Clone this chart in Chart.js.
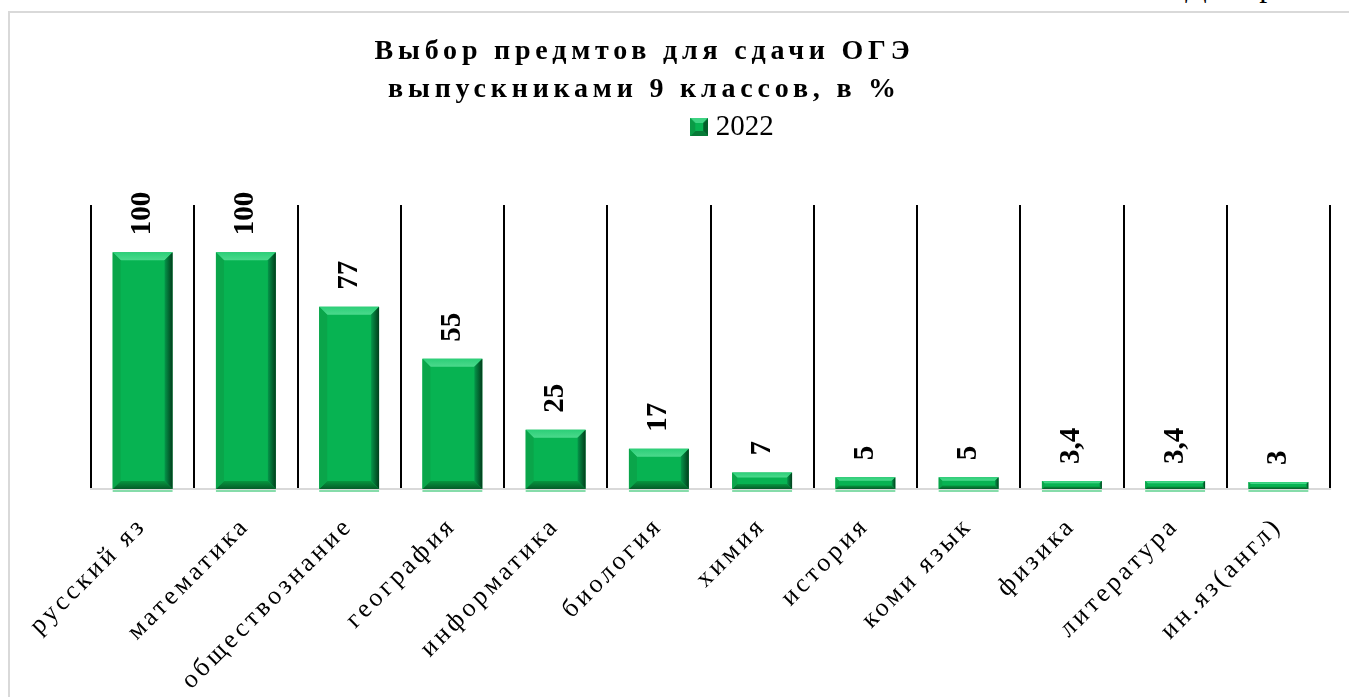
<!DOCTYPE html>
<html lang="ru">
<head>
<meta charset="utf-8">
<title>Выбор предметов ОГЭ</title>
<script src="https://cdn.jsdelivr.net/npm/chart.js@4.4.1/dist/chart.umd.min.js"></script>
<style>
  html, body { margin: 0; padding: 0; background: #fff; overflow: hidden; }
  #caption { position: absolute; left: 1185px; top: -31px; font: 32px "Liberation Serif", serif; line-height: 32px; letter-spacing: 2px; white-space: nowrap; color: #000; }
  #frame { position: absolute; left: 8px; top: 11px; width: 1400px; height: 700px; border-top: 2px solid #d9d9d9; border-left: 2px solid #d9d9d9; }
  #wrap { position: absolute; left: 0; top: 0; }
</style>
</head>
<body>
<div id="caption">Диаграмма</div>
<div id="frame"></div>
<div id="wrap"><canvas id="oge" width="1349" height="697"></canvas></div>
<script>
// ================= DATA =================
const subjects = [
  "русский яз", "математика", "обществознание", "география",
  "информатика", "биология", "химия", "история",
  "коми язык", "физика", "литература", "ин.яз(англ)"
];
const share2022 = [100, 100, 77, 55, 25, 17, 7, 5, 5, 3.4, 3.4, 3];
const yearLabel = "2022";
const titleLines = ["Выбор предмтов для сдачи ОГЭ", "выпускниками 9 классов, в %"];

const SERIF = '"Liberation Serif", "Times New Roman", serif';
const GREEN = "#07b352";

// ================= HELPERS =================
// wraps a draw method so it runs with its own letter spacing / shift
function wrapDraw(obj, name, gap, dx) {
  if (!obj || obj["_wrapped_" + name]) return;
  const orig = obj[name];
  obj[name] = function (...args) {
    const ctx = this.ctx;
    ctx.save();
    ctx.letterSpacing = gap;
    ctx.translate(dx, 0);
    orig.apply(this, args);
    ctx.restore();
  };
  obj["_wrapped_" + name] = true;
}

function legendIcon() {
  const c = document.createElement("canvas");
  c.width = 18; c.height = 18;
  const g = c.getContext("2d");
  g.fillStyle = GREEN; g.fillRect(0, 0, 18, 18);
  const e = 5;
  const facet = (pts, col) => {
    g.beginPath(); g.moveTo(pts[0], pts[1]);
    for (let i = 2; i < pts.length; i += 2) g.lineTo(pts[i], pts[i + 1]);
    g.closePath(); g.fillStyle = col; g.fill();
  };
  facet([0, 0, 18, 0, 18 - e, e, e, e], "#3fd383");
  facet([18, 0, 18, 18, 18 - e, 18 - e, 18 - e, e], "#035f2a");
  facet([0, 18, 18, 18, 18 - e, 18 - e, e, 18 - e], "#077a37");
  facet([0, 0, e, e, e, 18 - e, 0, 18], "#0a9a46");
  return c;
}

// ================= PLUGINS =================
const textTweaks = {
  id: "textTweaks",
  beforeDraw(chart) {
    wrapDraw(chart.titleBlock, "draw", "4.8px", -66);
    wrapDraw(chart.legend, "draw", "0px", 25);
    wrapDraw(chart.scales.x, "drawLabels", "3.5px", 0);
  }
};

const legendGap = {
  id: "legendGap",
  beforeInit(chart) {
    const fit = chart.legend.fit;
    chart.legend.fit = function () {
      fit.call(this);
      this.height += 53.5;
    };
  }
};

// bevel look of the bars + rotated value labels
const barDecor = {
  id: "barDecor",
  afterDatasetsDraw(chart) {
    const ctx = chart.ctx;
    const bars = chart.getDatasetMeta(0).data;
    bars.forEach((bar, i) => {
      const p = bar.getProps(["x", "y", "base", "width"], true);
      const l = p.x - p.width / 2, r = p.x + p.width / 2;
      const t = p.y, b = p.base;
      const e = Math.min(8, (b - t) * 0.3);

      const facet = (pts, fill) => {
        ctx.beginPath(); ctx.moveTo(pts[0], pts[1]);
        for (let k = 2; k < pts.length; k += 2) ctx.lineTo(pts[k], pts[k + 1]);
        ctx.closePath(); ctx.fillStyle = fill; ctx.fill();
      };
      ctx.save();
      let gr = ctx.createLinearGradient(0, t, 0, t + e);
      gr.addColorStop(0, "#2ccf78"); gr.addColorStop(1, "#4bd98c");
      facet([l, t, r, t, r - e, t + e, l + e, t + e], gr);
      gr = ctx.createLinearGradient(r - e, 0, r, 0);
      gr.addColorStop(0, "#05964a"); gr.addColorStop(1, "#013d1b");
      facet([r, t, r, b, r - e, b - e, r - e, t + e], gr);
      gr = ctx.createLinearGradient(0, b - e, 0, b);
      gr.addColorStop(0, "#07963f"); gr.addColorStop(1, "#055c29");
      facet([l, b, r, b, r - e, b - e, l + e, b - e], gr);
      facet([l, t, l + e, t + e, l + e, b - e, l, b], "#0aa54a");
      // pale strip right under the bar
      ctx.fillStyle = "#86dcaa";
      ctx.fillRect(l, b + 1, p.width, 2);

      // value label
      const txt = String(share2022[i]).replace(".", ",");
      ctx.translate(p.x, t - 17);
      ctx.rotate(-Math.PI / 2);
      ctx.font = "bold 29px " + SERIF;
      ctx.fillStyle = "#000";
      ctx.textAlign = "left";
      ctx.textBaseline = "middle";
      ctx.fillText(txt, 0, 0);
      ctx.restore();
    });
  }
};

// ================= CHART =================
new Chart(document.getElementById("oge"), {
  type: "bar",
  data: {
    labels: subjects,
    datasets: [{
      label: yearLabel,
      data: share2022,
      backgroundColor: GREEN,
      borderWidth: 0,
      categoryPercentage: 1,
      barPercentage: 0.58
    }]
  },
  options: {
    responsive: false,
    animation: false,
    layout: { padding: { left: 91, right: 19, top: 0, bottom: 0 } },
    plugins: {
      title: {
        display: true,
        text: titleLines,
        color: "#000",
        font: { family: SERIF, size: 28, weight: "bold", lineHeight: "38px" },
        padding: { top: 33, bottom: 0 }
      },
      legend: {
        display: true,
        labels: {
          color: "#000",
          font: { family: SERIF, size: 29 },
          usePointStyle: true,
          boxWidth: 4,
          boxHeight: 18,
          padding: 3.5,
          generateLabels: () => [{
            text: yearLabel,
            pointStyle: legendIcon(),
            fillStyle: GREEN,
            strokeStyle: "transparent",
            lineWidth: 0,
            hidden: false,
            datasetIndex: 0
          }]
        }
      },
      tooltip: { enabled: false }
    },
    scales: {
      x: {
        grid: { color: "#000", lineWidth: 2, drawTicks: false, offset: true },
        border: { color: "#d9d9d9", width: 2 },
        ticks: {
          color: "#000",
          font: { family: SERIF, size: 26 },
          minRotation: 45,
          maxRotation: 45,
          autoSkip: false,
          padding: 22
        },
        afterFit(scale) { scale.height = 208; }
      },
      y: { display: false, min: 0, max: 120 }
    }
  },
  plugins: [legendGap, textTweaks, barDecor]
});
</script>
</body>
</html>
